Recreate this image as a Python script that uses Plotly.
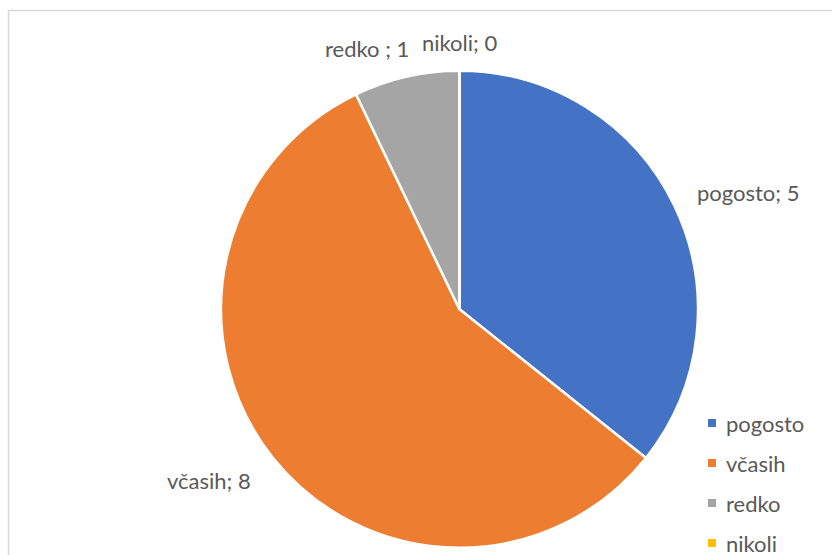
import plotly.graph_objects as go

# Survey answers (how often) and counts
labels = ["pogosto", "včasih", "redko ", "nikoli"]
values = [5, 8, 1, 0]
colors = ["#4472C4", "#ED7D31", "#A5A5A5", "#FFC000"]

W, H = 832, 555
TEXT_COLOR = "#595959"
FONT = "Lato"
FONT_SIZE = 22


def px(x):
    return x / W


def py(y):
    return 1 - y / H


fig = go.Figure(
    go.Pie(
        labels=labels,
        values=values,
        sort=False,
        direction="clockwise",
        rotation=0,
        marker=dict(colors=colors, line=dict(color="white", width=2.5)),
        textinfo="none",
        hoverinfo="label+value",
        showlegend=False,
        domain=dict(x=[px(221), px(698)], y=[py(548), py(70.5)]),
    )
)

# Data labels around the pie: (x, y, anchor) in pixels
label_pos = [
    (695, 192, "left"),
    (253, 480, "right"),
    (411, 48, "right"),
    (459, 43, "center"),
]
annotations = []
for lab, val, (x, y, anc) in zip(labels, values, label_pos):
    annotations.append(
        dict(
            x=px(x), y=py(y), xref="paper", yref="paper",
            text=f"{lab}; {val}", showarrow=False,
            xanchor=anc, yanchor="middle",
            font=dict(family=FONT, size=FONT_SIZE, color=TEXT_COLOR),
        )
    )

# Legend at the lower right: coloured squares and category names
shapes = []
legend_x, legend_y0, legend_dy = 712, 423, 40
for i, (lab, col) in enumerate(zip(labels, colors)):
    cy = legend_y0 + i * legend_dy
    shapes.append(
        dict(
            type="rect", xref="paper", yref="paper",
            x0=px(legend_x - 4), x1=px(legend_x + 4),
            y0=py(cy + 4), y1=py(cy - 4),
            fillcolor=col, line=dict(width=0),
        )
    )
    annotations.append(
        dict(
            x=px(724), y=py(cy), xref="paper", yref="paper",
            text=lab.strip(), showarrow=False,
            xanchor="left", yanchor="middle",
            font=dict(family=FONT, size=FONT_SIZE, color=TEXT_COLOR),
        )
    )

# Chart area border
shapes.append(
    dict(
        type="rect", xref="paper", yref="paper",
        x0=px(8.5), x1=1.02, y0=-0.02, y1=py(10.5),
        line=dict(color="#D9D9D9", width=1.5), fillcolor="rgba(0,0,0,0)",
        layer="below",
    )
)

fig.update_layout(
    width=W,
    height=H,
    margin=dict(l=0, r=0, t=0, b=0),
    paper_bgcolor="white",
    plot_bgcolor="white",
    annotations=annotations,
    shapes=shapes,
)

fig.write_html("out.html")
